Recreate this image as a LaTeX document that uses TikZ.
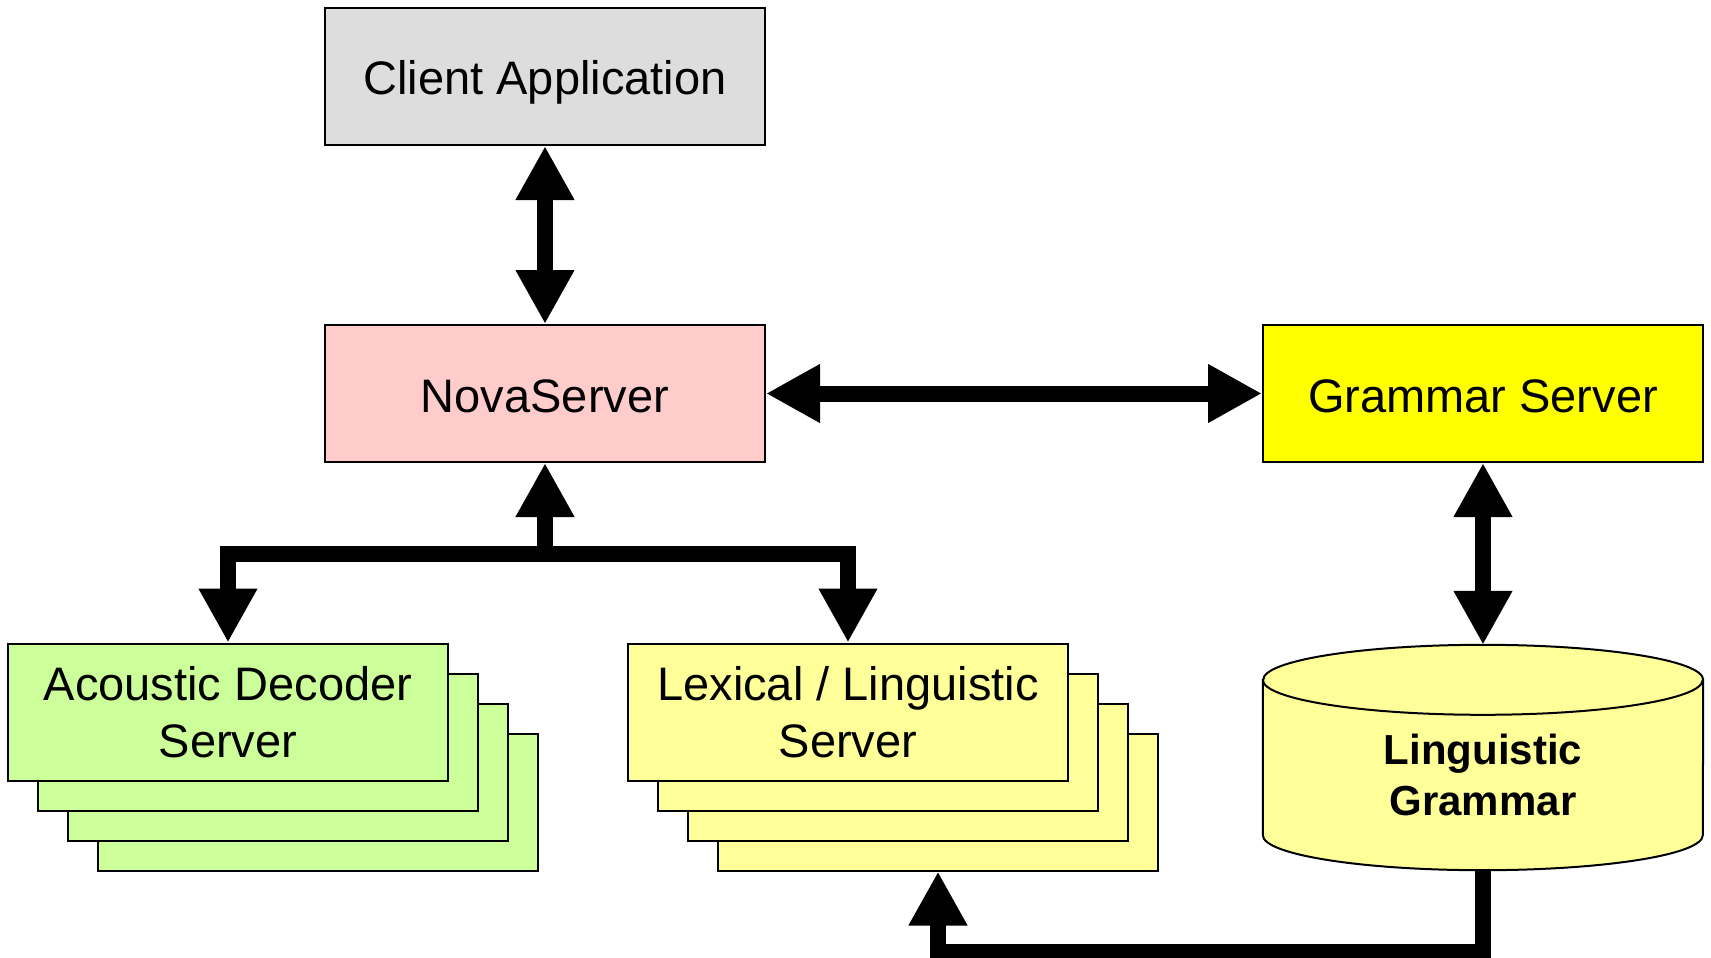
\documentclass[tikz,border=0pt]{standalone}
\usepackage{fontspec}
\setmainfont{Liberation Sans}
\usetikzlibrary{arrows.meta,calc}
\definecolor{clientgray}{HTML}{DDDDDD}
\definecolor{novapink}{HTML}{FFCCCC}
\definecolor{gramyellow}{HTML}{FFFF00}
\definecolor{acgreen}{HTML}{CCFF99}
\definecolor{lexyellow}{HTML}{FFFF99}
\begin{document}
\begin{tikzpicture}[x=1pt,y=-1pt,
  box/.style={draw=black, line width=2pt, minimum width=440pt, minimum height=137pt,
    inner sep=0pt, align=center, font=\fontsize{47}{57}\selectfont},
  oneline/.style={text height=37pt, text depth=0pt},
  fat/.style={line width=16pt, line join=miter},
  >={Triangle[length=54pt,width=55pt]}]
\useasboundingbox (0,0) rectangle (1711,958);

% top row
\node[box, oneline, fill=clientgray] (ca) at (545,76.5) {Client Application};
\node[box, oneline, fill=novapink] (nova) at (545,393.5) {NovaServer};
\node[box, oneline, fill=gramyellow] (gs) at (1483,393.5) {Grammar Server};

% acoustic decoder stack
\node[box, fill=acgreen] (ad3) at ($(228,712)+(90,90)$) {};
\node[box, fill=acgreen] (ad2) at ($(228,712)+(60,60)$) {};
\node[box, fill=acgreen] (ad1) at ($(228,712)+(30,30)$) {};
\node[box, fill=acgreen] (ad) at (228,712) {Acoustic Decoder\\Server};

% lexical / linguistic stack
\node[box, fill=lexyellow] (lx3) at ($(848,712)+(90,90)$) {};
\node[box, fill=lexyellow] (lx2) at ($(848,712)+(60,60)$) {};
\node[box, fill=lexyellow] (lx1) at ($(848,712)+(30,30)$) {};
\node[box, fill=lexyellow] (lx) at (848,712) {Lexical / Linguistic\\Server};

% grammar database cylinder
\node[minimum width=440pt, minimum height=225pt, inner sep=0pt] (lg) at (1483,757.5) {};
\draw[fill=lexyellow, line width=2pt]
  ($(lg.north west)+(0,35)$) -- ($(lg.south west)+(0,-35)$)
  arc[start angle=180, end angle=360, x radius=220pt, y radius=35pt]
  -- ($(lg.north east)+(0,35)$)
  arc[start angle=0, end angle=180, x radius=220pt, y radius=35pt] -- cycle;
\draw[line width=2pt] ($(lg.north west)+(0,35)$)
  arc[start angle=180, end angle=360, x radius=220pt, y radius=35pt];
\node[font=\bfseries\fontsize{42}{51}\selectfont, align=center] (lgt)
  at ($(lg.center)+(0,17)$) {Linguistic\\Grammar};

% connectors
\draw[fat, <->] (ca.south) -- (nova.north);
\draw[fat, <->] (nova.east) -- (gs.west);
\draw[fat, <->] (gs.south) -- (lg.north);

\coordinate (fork) at ($(nova.south)+(0,91)$);
\draw[fat, ->] (fork) -- (nova.south);
\draw[fat, <->] (ad.north) |- (fork) -| (lx.north);

\coordinate (botc) at ($(lx3.south)+(0,80)$);
\draw[fat, ->] (lg.south) |- (botc) -- (lx3.south);
\end{tikzpicture}
\end{document}
